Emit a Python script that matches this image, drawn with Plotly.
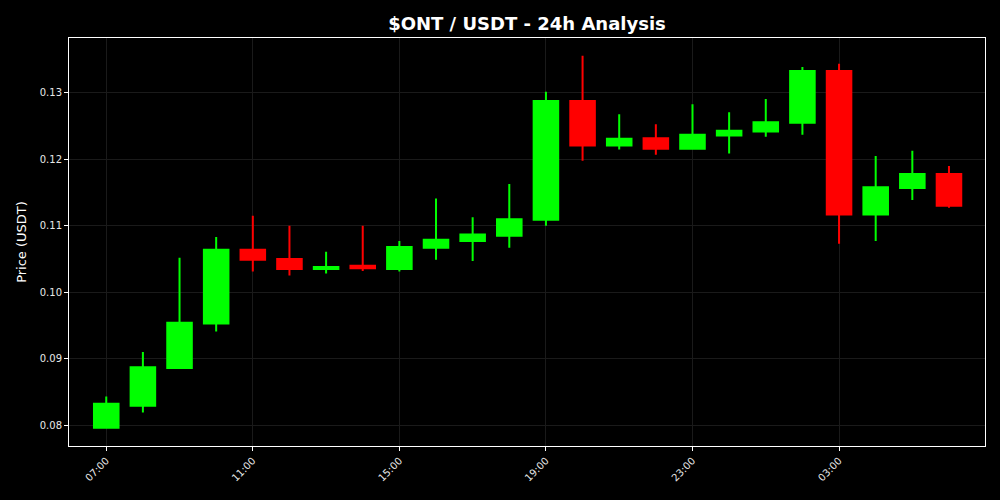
import plotly.graph_objects as go
import pandas as pd

# hourly candles, 07:00 through 06:00 next day
times = pd.date_range("2024-01-01 07:00", periods=24, freq="h")

opens = [0.0796, 0.0829, 0.0886, 0.0953, 0.1064, 0.1050, 0.1035, 0.1040,
         0.1035, 0.1067, 0.1077, 0.1085, 0.1109, 0.1288, 0.1221, 0.1232,
         0.1216, 0.1236, 0.1242, 0.1255, 0.1333, 0.1117, 0.1157, 0.1178]
highs = [0.0843, 0.0910, 0.1052, 0.1083, 0.1115, 0.1100, 0.1061, 0.1100,
         0.1077, 0.1141, 0.1113, 0.1163, 0.1302, 0.1356, 0.1268, 0.1253,
         0.1283, 0.1271, 0.1291, 0.1339, 0.1344, 0.1205, 0.1213, 0.1190]
lows = [0.0796, 0.0819, 0.0885, 0.0941, 0.1031, 0.1025, 0.1028, 0.1032,
        0.1031, 0.1049, 0.1047, 0.1067, 0.1100, 0.1198, 0.1215, 0.1207,
        0.1215, 0.1209, 0.1234, 0.1237, 0.1073, 0.1077, 0.1139, 0.1127]
closes = [0.0832, 0.0887, 0.0954, 0.1064, 0.1049, 0.1035, 0.1038, 0.1036,
          0.1068, 0.1079, 0.1087, 0.1110, 0.1288, 0.1221, 0.1231, 0.1216,
          0.1237, 0.1243, 0.1256, 0.1333, 0.1117, 0.1158, 0.1178, 0.1130]

fig = go.Figure(
    go.Candlestick(
        x=times,
        open=opens,
        high=highs,
        low=lows,
        close=closes,
        increasing=dict(line=dict(color='#00ff00', width=2), fillcolor='#00ff00'),
        decreasing=dict(line=dict(color='#ff0000', width=2), fillcolor='#ff0000'),
        whiskerwidth=0,
        showlegend=False
    )
)

fig.update_layout(
    width=1000,
    height=500,
    paper_bgcolor='black',
    plot_bgcolor='black',
    font=dict(family='DejaVu Sans', color='#e8e8e8', size=10),
    margin=dict(l=69, r=15, t=38, b=54),
    boxgap=0.33,
    boxgroupgap=0,
    title=dict(
        text='<b>$ONT / USDT - 24h Analysis</b>',
        x=0.5,
        xref='paper',
        xanchor='center',
        y=0.953,
        yanchor='middle',
        font=dict(size=18, color='white')
    ),
    xaxis=dict(
        type='date',
        range=[pd.Timestamp("2024-01-01 05:59"), pd.Timestamp("2024-01-02 06:59")],
        tickformat='%H:%M',
        dtick=4 * 3600 * 1000,
        tick0=pd.Timestamp("2024-01-01 07:00"),
        tickangle=-45,
        showgrid=True,
        gridcolor='#1a1a1a',
        showline=True,
        linecolor='white',
        linewidth=1,
        mirror=True,
        ticks='outside',
        tickcolor='white',
        ticklen=4,
        zeroline=False,
        rangeslider=dict(visible=False)
    ),
    yaxis=dict(
        range=[0.07684, 0.13828],
        dtick=0.01,
        tickformat='.2f',
        title=dict(text='Price (USDT)', font=dict(size=13, color='white'), standoff=10),
        showgrid=True,
        gridcolor='#1a1a1a',
        showline=True,
        linecolor='white',
        linewidth=1,
        mirror=True,
        ticks='outside',
        tickcolor='white',
        ticklen=4,
        zeroline=False
    )
)

# drop the page margin so the figure sits at the window's corner
fig.write_html(
    "out.html",
    config=dict(displayModeBar=False),
    post_script="document.body.style.margin='0';document.body.style.background='black';"
)
